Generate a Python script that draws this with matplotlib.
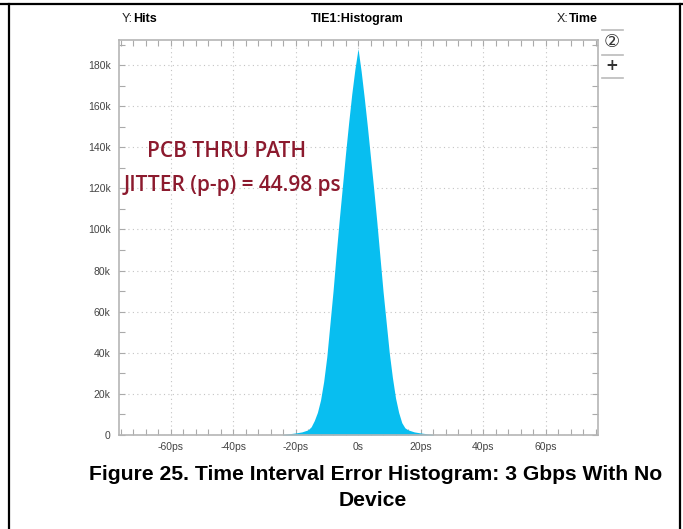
import matplotlib
matplotlib.use("Agg")
import matplotlib.pyplot as plt
from matplotlib.lines import Line2D
from matplotlib.ticker import FixedLocator, MultipleLocator

# histogram (time in ps, hits)
tie_ps = [-24, -22, -20, -18, -16, -15, -14, -13, -12, -11, -10, -9, -8, -7, -6,
          -5, -4, -3, -2, -1, 0, 1, 2, 3, 4, 5, 6, 7, 8, 9, 10, 11, 12, 13, 14,
          15, 16, 18, 20, 22, 24]
hits = [300, 600, 1000, 1500, 2500, 4000, 7000, 11000, 17000, 26000, 38000,
        54000, 70000, 88000, 105000, 121000, 137000, 152000, 166000, 178000,
        188000, 177000, 164000, 150000, 135000, 120000, 104000, 87000, 70000,
        55000, 40000, 28000, 18000, 11000, 6000, 3500, 2500, 1500, 1000, 600, 300]

x_ticks = [-60, -40, -20, 0, 20, 40, 60]
x_labels = ['-60ps', '-40ps', '-20ps', '0s', '20ps', '40ps', '60ps']
y_ticks = [0, 20000, 40000, 60000, 80000, 100000, 120000, 140000, 160000, 180000]
y_labels = ['0', '20k', '40k', '60k', '80k', '100k', '120k', '140k', '160k', '180k']

W, H = 683, 529
fig = plt.figure(figsize=(W / 100, H / 100), dpi=100)

def fx(px):
    return px / W

def fy(py):
    return 1 - py / H

narrow = ['Liberation Sans Narrow', 'Liberation Sans', 'DejaVu Sans']

ax = fig.add_axes([fx(119), fy(435), fx(598) - fx(119), fy(40) - fy(435)])
ax.fill_between(tie_ps, hits, 0, color='#08BEF0', linewidth=0)
ax.set_xlim(-76.5, 76.8)
ax.set_ylim(0, 192200)

ax.xaxis.set_major_locator(FixedLocator(x_ticks))
ax.set_xticklabels(x_labels)
ax.xaxis.set_minor_locator(MultipleLocator(4))
ax.yaxis.set_major_locator(FixedLocator(y_ticks))
ax.set_yticklabels(y_labels)
ax.yaxis.set_minor_locator(MultipleLocator(10000))

ax.tick_params(which='both', direction='in', top=True, right=True,
               color='#aaaaaa', labelcolor='#444444', labelsize=7.5)
ax.tick_params(which='major', length=4, width=0.8)
ax.tick_params(which='minor', length=4, width=0.8)
ax.tick_params(axis='y', pad=6)
ax.tick_params(axis='x', pad=5)
for lbl in ax.get_xticklabels() + ax.get_yticklabels():
    lbl.set_family(narrow)
for s in ax.spines.values():
    s.set_color('#b5b5b5')
    s.set_linewidth(1.2)
ax.grid(True, which='major', color='#c4c4c4', linestyle=(0, (1, 3)), linewidth=0.8)
ax.set_axisbelow(True)

# scope header
hdr = 9
fig.text(fx(122), fy(19), 'Y:', fontsize=hdr, family=narrow, va='center', color='#222222')
fig.text(fx(133), fy(19), 'Hits', fontsize=hdr, family=narrow, weight='bold', va='center')
fig.text(fx(357), fy(19), 'TIE1:Histogram', fontsize=hdr, family=narrow, weight='bold',
         va='center', ha='center')
fig.text(fx(568), fy(19), 'X:', fontsize=hdr, family=narrow, va='center', ha='right', color='#222222')
fig.text(fx(598), fy(19), 'Time', fontsize=hdr, family=narrow, weight='bold', va='center', ha='right')

# side buttons
for py in (30, 55, 78):
    fig.add_artist(Line2D([fx(602), fx(623)], [fy(py), fy(py)], color='#bbbbbb', lw=1.2))
fig.text(fx(612), fy(42), '\u2461', fontsize=13, family=['DejaVu Sans'], ha='center',
         va='center', color='#333333')
fig.text(fx(612), fy(66), '+', fontsize=11, family=['DejaVu Sans'], weight='bold',
         ha='center', va='center', color='#333333')

# jitter note
note_font = ['Open Sans', 'Lato', 'DejaVu Sans']
fig.text(fx(147), fy(151), 'PCB THRU PATH', fontsize=15, family=note_font,
         weight='semibold', color='#8C1A2E', va='center')
fig.text(fx(124), fy(186), 'JITTER (p-p) = 44.98 ps', fontsize=15,
         family=note_font, weight='semibold', color='#8C1A2E', va='center')

# caption
cap = 15.2
fig.text(fx(376), fy(474), 'Figure 25. Time Interval Error Histogram: 3 Gbps With No',
         fontsize=cap, family=['Liberation Sans', 'DejaVu Sans'], weight='bold',
         ha='center', va='center')
fig.text(fx(373), fy(500), 'Device', fontsize=cap, family=['Liberation Sans', 'DejaVu Sans'],
         weight='bold', ha='center', va='center')

# page frame
fig.add_artist(Line2D([0, 1], [fy(4), fy(4)], color='black', lw=1.6))
fig.add_artist(Line2D([fx(9), fx(9)], [0, fy(4)], color='black', lw=1.6))
fig.add_artist(Line2D([fx(680), fx(680)], [0, fy(4)], color='black', lw=1.6))

fig.savefig('out.png', dpi=100)
